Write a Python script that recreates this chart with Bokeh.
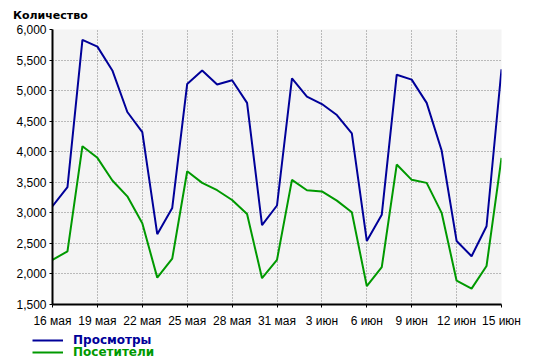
from bokeh.plotting import figure
from bokeh.layouts import column
from bokeh.models import Range1d, FixedTicker, NumeralTickFormatter, Legend, LegendItem, Label
from bokeh.embed import file_html
from bokeh.resources import INLINE

# ---- data ----
days = list(range(31))  # 16 May .. 15 Jun
views = [3110, 3420, 5830, 5720, 5330, 4650, 4320, 2650, 3080, 5110, 5330,
         5100, 5170, 4800, 2800, 3120, 5200, 4900, 4780, 4600, 4300, 2540,
         2970, 5260, 5180, 4800, 4020, 2540, 2290, 2780, 5350]
visitors = [2230, 2370, 4090, 3900, 3530, 3270, 2830, 1940, 2250, 3680, 3490,
            3370, 3210, 2980, 1930, 2230, 3540, 3370, 3350, 3200, 3010, 1800,
            2110, 3790, 3540, 3490, 3000, 1890, 1760, 2130, 3900]
tick_pos = [0, 3, 6, 9, 12, 15, 18, 21, 24, 27, 30]
tick_labels = ["16 мая", "19 мая", "22 мая", "25 мая", "28 мая", "31 мая",
               "3 июн", "6 июн", "9 июн", "12 июн", "15 июн"]
y_ticks = [1500, 2000, 2500, 3000, 3500, 4000, 4500, 5000, 5500, 6000]
title_text = "Количество"
series_names = ["Просмотры", "Посетители"]
colors = ["#000099", "#009900"]


def strip(height):
    f = figure(width=534, height=height, output_backend="svg", toolbar_location=None,
               x_range=Range1d(0, 1), y_range=Range1d(0, 1),
               min_border_left=0, min_border_right=0, min_border_top=0,
               min_border_bottom=0, x_axis_type=None, y_axis_type=None)
    f.frame_align = False
    f.grid.visible = False
    f.outline_line_color = None
    f.background_fill_color = "white"
    f.border_fill_color = "white"
    return f


# title strip
p0 = strip(24)
p0.add_layout(Label(x=12.5, y=9, x_units="screen", y_units="screen", text=title_text,
                    text_font="DejaVu Sans", text_font_style="bold",
                    text_font_size="11px", text_baseline="alphabetic",
                    text_align="left", text_color="black"))

# main chart
p = figure(width=534, height=306, output_backend="svg", toolbar_location=None,
           x_range=Range1d(0, 30), y_range=Range1d(1500, 6000),
           min_border_left=52, min_border_right=33, min_border_top=5,
           min_border_bottom=25)
p.frame_align = False
p.background_fill_color = "#f4f4f4"
p.border_fill_color = "white"
p.outline_line_color = None

p.line(days, views, line_color=colors[0], line_width=2)
p.line(days, visitors, line_color=colors[1], line_width=2)

for ax in (p.xaxis[0], p.yaxis[0]):
    ax.axis_line_width = 2
    ax.axis_line_color = "black"
    ax.major_tick_out = 3
    ax.major_tick_in = 0
    ax.minor_tick_out = 0
    ax.minor_tick_in = 0
    ax.major_label_text_font = "Liberation Sans"
    ax.major_label_text_font_size = "12px"
    ax.major_label_text_color = "black"
    ax.major_tick_line_color = "black"

p.xaxis.ticker = FixedTicker(ticks=tick_pos)
p.xaxis.major_label_overrides = {t: l for t, l in zip(tick_pos, tick_labels)}
p.xaxis.major_label_standoff = 6
p.yaxis.ticker = FixedTicker(ticks=y_ticks)
p.yaxis.formatter = NumeralTickFormatter(format="0,0")
p.yaxis.major_label_standoff = 3

p.grid.grid_line_color = "#808080"
p.grid.grid_line_dash = "1 2"
p.grid.grid_line_width = 1

# legend strip below the chart
p2 = strip(34)
legend_y = [17, 5.5]
nan = float("nan")
for name, c, ly in zip(series_names, colors, legend_y):
    r = p2.line([nan, nan], [nan, nan], line_color=c, line_width=2)
    lg = Legend(items=[LegendItem(label=name, renderers=[r])],
                location=(32, ly), padding=0, margin=0, spacing=0,
                glyph_width=31, glyph_height=12, label_height=12, label_standoff=10,
                border_line_alpha=0, background_fill_alpha=0,
                label_text_font="DejaVu Sans", label_text_font_style="bold",
                label_text_font_size="12px", label_text_color=c)
    p2.add_layout(lg, "center")

layout = column(p0, p, p2, spacing=0)
open("out.html", "w").write(file_html(layout, INLINE))
